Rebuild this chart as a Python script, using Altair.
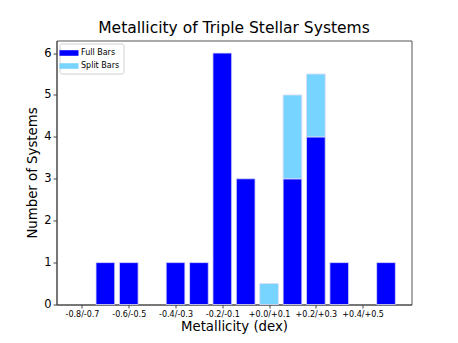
import altair as alt
import pandas as pd

# slot positions (0.1 dex bins) and counts
positions = list(range(14))
full_counts = [0, 1, 1, 0, 1, 1, 6, 3, 0, 3, 4, 1, 0, 1]
split_counts = [0, 0, 0, 0, 0, 0, 0, 0, 0.5, 2, 1.5, 0, 0, 0]
tick_positions = [0, 2, 4, 6, 8, 10, 12]
tick_labels = ["-0.8/-0.7", "-0.6/-0.5", "-0.4/-0.3", "-0.2/-0.1",
               "+0.0/+0.1", "+0.2/+0.3", "+0.4/+0.5"]

rows = []
for p, f, s in zip(positions, full_counts, split_counts):
    rows.append({"pos": p, "series": "Full Bars", "lo": 0, "hi": f})
    rows.append({"pos": p, "series": "Split Bars", "lo": f, "hi": f + s})
df = pd.DataFrame(rows)
df = df[df["hi"] > df["lo"]]

label_arr = "[" + ",".join("'%s'" % t for t in tick_labels) + "]"
font = "DejaVu Sans"

bars = alt.Chart(df).transform_calculate(
    x0="datum.pos - 0.4", x1="datum.pos + 0.4"
).mark_bar(stroke="#dcdcf5", strokeWidth=0.8).encode(
    x=alt.X("x0:Q", scale=alt.Scale(domain=[-1.09, 14.09], nice=False, zero=False),
            axis=alt.Axis(values=tick_positions, labelExpr=label_arr + "[datum.value/2]",
                          title="Metallicity (dex)", grid=False, labelFontSize=8,
                          titleFontSize=13.3, titleFontWeight="normal", labelColor="black",
                          titleColor="black", domainColor="#444", tickColor="#444",
                          tickSize=3.5, labelPadding=2, titlePadding=1, labelFont=font,
                          titleFont=font)),
    x2="x1:Q",
    y=alt.Y("lo:Q", scale=alt.Scale(domain=[0, 6.3], nice=False),
            axis=alt.Axis(values=[0, 1, 2, 3, 4, 5, 6], title="Number of Systems",
                          grid=False, labelFontSize=11.5, titleFontSize=13.3,
                          titleFontWeight="normal", labelColor="black", titleColor="black",
                          domainColor="#444", tickColor="#444", tickSize=3.5,
                          labelPadding=2, titlePadding=4, labelFont=font, titleFont=font)),
    y2="hi:Q",
    color=alt.Color("series:N",
                    scale=alt.Scale(domain=["Full Bars", "Split Bars"],
                                    range=["#0000ff", "#77d4ff"]),
                    legend=alt.Legend(title=None, orient="none", legendX=3, legendY=3,
                                      symbolType="M-1.7,-0.5L1.7,-0.5L1.7,0.5L-1.7,0.5Z",
                                      symbolSize=125, symbolStrokeWidth=0,
                                      labelFontSize=8, labelFont=font, labelColor="black",
                                      labelOffset=6,
                                      fillColor="white", strokeColor="#d0d0d0",
                                      padding=3.5, cornerRadius=2, rowPadding=3)),
    order=alt.Order("series:N")
)

chart = bars.properties(
    width=355, height=264,
    background="white",
    title=alt.TitleParams("Metallicity of Triple Stellar Systems", fontSize=15.5,
                          font=font, fontWeight="normal", color="black",
                          anchor="middle", offset=4),
    autosize=alt.AutoSizeParams(type="none"),
    padding={"left": 48.5, "top": 32.5, "right": 38.5, "bottom": 30.5},
).configure_view(stroke="#555555", strokeWidth=1)

chart.save("out.html", embed_options={"renderer": "svg", "actions": False})
